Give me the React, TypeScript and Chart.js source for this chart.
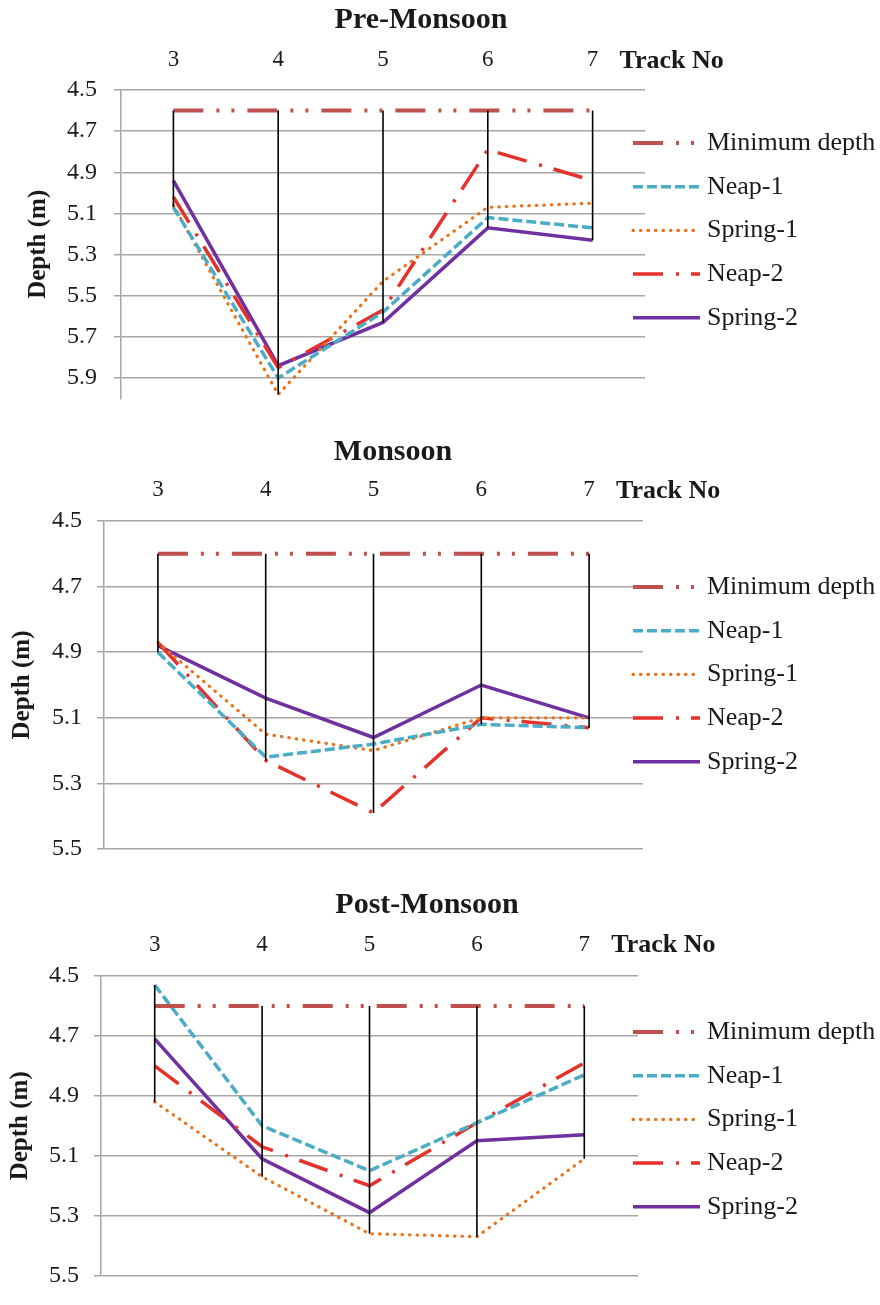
import React, { useEffect, useRef } from "react";
import { Chart, registerables } from "chart.js";

Chart.register(...registerables);

const SERIF = "'Liberation Serif', 'Times New Roman', serif";

// ---------- data ----------
const trackNos = ["3", "4", "5", "6", "7"];
const seriesNames = ["Minimum depth", "Neap-1", "Spring-1", "Neap-2", "Spring-2"];

const preMinDepth = [4.6, 4.6, 4.6, 4.6, 4.6];
const preNeap1 = [5.07, 5.9, 5.58, 5.12, 5.17];
const preSpring1 = [5.06, 5.98, 5.43, 5.07, 5.05];
const preNeap2 = [5.02, 5.85, 5.57, 4.79, 4.94];
const preSpring2 = [4.94, 5.84, 5.63, 5.17, 5.23];

const monMinDepth = [4.6, 4.6, 4.6, 4.6, 4.6];
const monNeap1 = [4.9, 5.22, 5.18, 5.12, 5.13];
const monSpring1 = [4.87, 5.15, 5.2, 5.1, 5.1];
const monNeap2 = [4.87, 5.23, 5.39, 5.1, 5.13];
const monSpring2 = [4.88, 5.04, 5.16, 5.0, 5.1];

const postMinDepth = [4.6, 4.6, 4.6, 4.6, 4.6];
const postNeap1 = [4.53, 5.0, 5.15, 4.99, 4.83];
const postSpring1 = [4.92, 5.17, 5.36, 5.37, 5.11];
const postNeap2 = [4.8, 5.07, 5.2, 4.99, 4.79];
const postSpring2 = [4.71, 5.11, 5.29, 5.05, 5.03];

const preTicks = [4.5, 4.7, 4.9, 5.1, 5.3, 5.5, 5.7, 5.9];
const monTicks = [4.5, 4.7, 4.9, 5.1, 5.3, 5.5];
const postTicks = [4.5, 4.7, 4.9, 5.1, 5.3, 5.5];

// ---------- styles ----------
const seriesStyles = [
  { color: "#C0504D", width: 4, dash: [30, 13, 3, 12, 3, 13], cap: "butt" },
  { color: "#4BACC6", width: 3.5, dash: [10, 4], cap: "butt" },
  { color: "#E8731A", width: 3.2, dash: [0.5, 7], cap: "round" },
  { color: "#E4312A", width: 3.5, dash: [30, 13, 3, 12], cap: "butt" },
  { color: "#7030A0", width: 3.5, dash: [], cap: "butt" },
];

type PanelCfg = {
  title: string;
  series: number[][];
  ticks: number[];
  yMax: number;
  height: number;
  left: number;
  right: number;
  top: number;
  bottom: number;
  titleX: number;
  titleBaseline: number;
  labelBaseline: number;
  xPad: number;
  yPad: number;
  depthX: number;
  legendY: number;
};

const panels: PanelCfg[] = [
  {
    title: "Pre-Monsoon",
    series: [preMinDepth, preNeap1, preSpring1, preNeap2, preSpring2],
    ticks: preTicks,
    yMax: 6.0,
    height: 430,
    left: 121,
    right: 645,
    top: 90,
    bottom: 405,
    titleX: 421,
    titleBaseline: 28,
    labelBaseline: 68,
    xPad: 16,
    yPad: 17,
    depthX: 39,
    legendY: 143,
  },
  {
    title: "Monsoon",
    series: [monMinDepth, monNeap1, monSpring1, monNeap2, monSpring2],
    ticks: monTicks,
    yMax: 5.5,
    height: 450,
    left: 104,
    right: 643,
    top: 91,
    bottom: 419,
    titleX: 393,
    titleBaseline: 30,
    labelBaseline: 68,
    xPad: 17,
    yPad: 15,
    depthX: 23,
    legendY: 157,
  },
  {
    title: "Post-Monsoon",
    series: [postMinDepth, postNeap1, postSpring1, postNeap2, postSpring2],
    ticks: postTicks,
    yMax: 5.5,
    height: 425,
    left: 101,
    right: 638,
    top: 96,
    bottom: 413,
    titleX: 427,
    titleBaseline: 33,
    labelBaseline: 72,
    xPad: 17,
    yPad: 15,
    depthX: 21,
    legendY: 152,
  },
];

const hiLoPlugin = {
  id: "hiLo",
  afterDatasetsDraw(chart: any) {
    const { ctx } = chart;
    const x = chart.scales.x;
    const y = chart.scales.y;
    ctx.save();
    ctx.strokeStyle = "#000000";
    ctx.lineWidth = 1.6;
    ctx.setLineDash([]);
    chart.data.labels.forEach((_: any, i: number) => {
      const vals = chart.data.datasets.map((d: any) => d.data[i] as number);
      const lo = Math.min(...vals);
      const hi = Math.max(...vals);
      const px = x.getPixelForValue(i);
      ctx.beginPath();
      ctx.moveTo(px, y.getPixelForValue(lo));
      ctx.lineTo(px, y.getPixelForValue(hi));
      ctx.stroke();
    });
    ctx.restore();
  },
};

function makeDecor(cfg: PanelCfg) {
  return {
    id: "decor",
    afterDraw(chart: any) {
      const { ctx, chartArea } = chart;
      const x = chart.scales.x;
      ctx.save();
      ctx.fillStyle = "#1a1a1a";
      // title
      ctx.font = `bold 30px ${SERIF}`;
      ctx.textAlign = "center";
      ctx.textBaseline = "alphabetic";
      ctx.fillText(cfg.title, cfg.titleX, cfg.titleBaseline);
      // x axis title
      ctx.font = `bold 26px ${SERIF}`;
      ctx.textAlign = "left";
      ctx.fillText("Track No", x.getPixelForValue(trackNos.length - 1) + 27, cfg.labelBaseline);
      // y axis title
      ctx.save();
      ctx.translate(cfg.depthX, (chartArea.top + chartArea.bottom) / 2);
      ctx.rotate(-Math.PI / 2);
      ctx.textAlign = "center";
      ctx.textBaseline = "middle";
      ctx.font = `bold 25px ${SERIF}`;
      ctx.fillText("Depth (m)", 0, 0);
      ctx.restore();
      // legend
      chart.data.datasets.forEach((d: any, i: number) => {
        const st = seriesStyles[i];
        const ly = cfg.legendY + i * 43.7;
        ctx.save();
        ctx.strokeStyle = st.color;
        ctx.lineWidth = st.width;
        ctx.lineCap = st.cap as CanvasLineCap;
        ctx.setLineDash(st.dash);
        ctx.beginPath();
        ctx.moveTo(633, ly);
        ctx.lineTo(700, ly);
        ctx.stroke();
        ctx.restore();
        ctx.font = `26px ${SERIF}`;
        ctx.textAlign = "left";
        ctx.textBaseline = "middle";
        ctx.fillStyle = "#1a1a1a";
        ctx.fillText(d.label, 707, ly);
      });
      ctx.restore();
    },
  };
}

function Panel({ cfg }: { cfg: PanelCfg }) {
  const ref = useRef<HTMLCanvasElement>(null);
  useEffect(() => {
    const canvas = ref.current;
    if (!canvas) return;
    const datasets = cfg.series.map((data, i) => ({
      label: seriesNames[i],
      data,
      borderColor: seriesStyles[i].color,
      backgroundColor: seriesStyles[i].color,
      borderWidth: seriesStyles[i].width,
      borderDash: seriesStyles[i].dash,
      borderCapStyle: seriesStyles[i].cap,
      borderJoinStyle: "miter",
      pointRadius: 0,
      pointHoverRadius: 0,
      fill: false,
      tension: 0,
    }));
    const chart = new Chart(canvas, {
      type: "line",
      data: { labels: trackNos, datasets: datasets as any },
      options: {
        animation: false,
        responsive: false,
        devicePixelRatio: 1,
        events: [],
        layout: {
          padding: { left: 0, top: 0, right: 880 - cfg.right, bottom: cfg.height - cfg.bottom },
        },
        plugins: {
          legend: { display: false },
          tooltip: { enabled: false },
          title: { display: false },
        },
        scales: {
          x: {
            type: "category",
            position: "top",
            offset: true,
            grid: { display: false, drawTicks: false },
            border: { display: false },
            ticks: {
              font: { family: SERIF, size: 23 },
              color: "#1a1a1a",
              padding: cfg.xPad,
              maxRotation: 0,
              autoSkip: false,
            },
            afterFit: (s: any) => {
              s.height = cfg.top;
            },
          },
          y: {
            type: "linear",
            reverse: true,
            min: 4.5,
            max: cfg.yMax,
            afterBuildTicks: (s: any) => {
              s.ticks = cfg.ticks.map((v) => ({ value: v }));
            },
            ticks: {
              font: { family: SERIF, size: 24 },
              color: "#1a1a1a",
              padding: cfg.yPad,
              callback: (v: any) => Number(v).toFixed(1),
            },
            grid: { color: "#a6a6a6", lineWidth: 1.5, tickLength: 7, drawTicks: true },
            border: { display: true, color: "#a6a6a6", width: 1.5 },
            afterFit: (s: any) => {
              s.width = cfg.left;
            },
          },
        } as any,
      },
      plugins: [hiLoPlugin, makeDecor(cfg)],
    });
    return () => chart.destroy();
  }, [cfg]);
  return (
    <canvas
      ref={ref}
      width={880}
      height={cfg.height}
      style={{ display: "block", width: 880, height: cfg.height }}
    />
  );
}

export default function App() {
  useEffect(() => {
    document.body.style.margin = "0";
  }, []);
  return (
    <div style={{ width: 880, background: "#ffffff", margin: 0 }}>
      {panels.map((p) => (
        <Panel key={p.title} cfg={p} />
      ))}
    </div>
  );
}
